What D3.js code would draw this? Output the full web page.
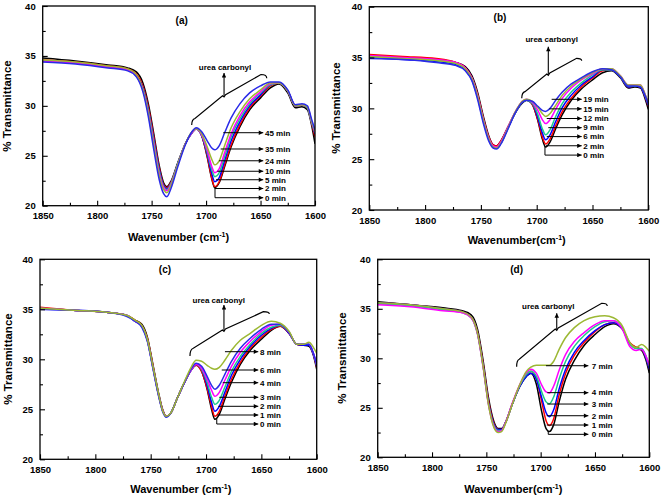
<!DOCTYPE html>
<html><head><meta charset="utf-8">
<script src="https://cdn.jsdelivr.net/npm/d3@7/dist/d3.min.js"></script>
<style>
html,body{margin:0;padding:0;background:#fff;}
svg{display:block;}
text{font-family:"Liberation Sans",Arial,sans-serif;font-weight:bold;fill:#000;}
</style></head><body>
<svg id="chart" width="661" height="499"></svg>
<script>
// ---------- DATA ----------
const wavenumbers = [1850,1820,1790,1772,1764,1758,1753,1748,1743,1739,1736,1732,1726,1719,1713,1709,1704,1699,1695,1692,1688,1683,1677,1669,1660,1650,1641,1633,1625,1618,1612,1607,1603,1600];
const xTicks = [1850,1800,1750,1700,1650,1600];
const xMinorTicks = [1825,1775,1725,1675,1625];
const yTicks = [20,25,30,35,40];
const yMinorTicks = [22.5,27.5,32.5,37.5];

// panel (a)
const timesA = ["0 min","2 min","5 min","10 min","24 min","35 min","45 min"];
const a0  = [34.8,34.5,34.1,33.8,33.4,32.3,30.2,27.2,24.0,22.3,21.9,22.5,24.3,26.2,27.3,27.7,27.0,24.9,22.8,21.8,22.3,23.9,25.9,27.9,29.6,30.8,31.8,32.2,31.3,29.8,29.9,29.6,28.0,26.2];
const a2  = [34.6,34.4,34.0,33.7,33.2,32.0,29.9,26.9,23.8,22.1,21.8,22.4,24.2,26.2,27.3,27.7,27.0,25.0,22.9,21.9,22.4,24.1,26.1,28.1,29.8,31.0,32.0,32.3,31.5,30.0,30.1,29.8,28.2,26.9];
const a5  = [34.5,34.3,33.9,33.6,33.0,31.8,29.6,26.6,23.6,22.0,21.7,22.3,24.2,26.2,27.3,27.7,27.0,25.2,23.3,22.4,22.8,24.5,26.5,28.4,30.0,31.1,32.1,32.3,31.5,30.0,30.1,29.8,28.3,27.2];
const a10 = [34.5,34.3,33.9,33.6,33.0,31.7,29.5,26.4,23.4,21.9,21.6,22.3,24.2,26.2,27.3,27.7,27.1,25.4,23.7,22.9,23.3,24.9,26.9,28.7,30.2,31.3,32.1,32.3,31.5,30.0,30.1,29.8,28.3,27.3];
const a24 = [34.5,34.3,33.9,33.6,33.0,31.6,29.3,26.2,23.2,21.8,21.5,22.2,24.1,26.2,27.3,27.7,27.1,25.6,24.0,23.3,23.7,25.3,27.2,29.0,30.4,31.4,32.2,32.3,31.5,30.0,30.1,29.9,28.4,27.4];
const a35 = [34.6,34.4,34.0,33.7,33.1,31.6,29.2,26.0,23.0,21.6,21.3,22.1,24.1,26.2,27.4,27.7,27.2,25.9,24.7,24.1,24.5,26.0,27.8,29.4,30.7,31.6,32.3,32.3,31.5,30.0,30.1,29.9,28.4,27.5];
const a45 = [34.4,34.2,33.8,33.5,32.9,31.4,28.9,25.6,22.6,21.2,20.9,21.8,23.9,26.1,27.4,27.8,27.4,26.5,25.8,25.6,26.0,27.3,28.8,30.2,31.3,32.0,32.4,32.4,31.6,30.1,30.2,30.0,28.6,27.6];

// panel (b)
const timesB = ["0 min","2 min","6 min","9 min","12 min","15 min","19 min"];
const b0  = [35.2,35.0,34.8,34.5,34.1,33.2,31.6,29.3,27.3,26.4,26.3,26.8,28.1,29.6,30.5,30.8,30.4,28.8,27.0,26.2,26.7,28.0,29.4,30.8,31.9,32.8,33.5,33.7,33.0,32.0,32.1,32.0,31.0,29.9];
const b2  = [35.3,35.1,34.9,34.5,34.0,33.0,31.4,29.1,27.2,26.4,26.3,26.8,28.1,29.6,30.6,30.8,30.4,28.9,27.2,26.5,27.0,28.3,29.7,31.0,32.1,33.0,33.7,33.8,33.1,32.1,32.2,32.1,31.2,30.2];
const b6  = [35.0,34.8,34.6,34.3,33.8,32.8,31.1,28.8,27.0,26.2,26.1,26.6,28.0,29.6,30.6,30.8,30.5,29.1,27.6,26.9,27.4,28.7,30.1,31.3,32.3,33.1,33.8,33.8,33.1,32.1,32.2,32.1,31.2,30.3];
const b9  = [35.1,34.9,34.7,34.4,33.9,32.9,31.2,28.9,27.0,26.2,26.1,26.6,28.0,29.6,30.6,30.8,30.5,29.4,28.0,27.4,27.9,29.2,30.5,31.6,32.5,33.3,33.8,33.8,33.1,32.2,32.2,32.2,31.3,30.4];
const b12 = [35.2,35.0,34.8,34.5,34.0,33.0,31.3,29.0,27.1,26.3,26.2,26.7,28.1,29.7,30.7,30.9,30.6,29.8,28.9,28.5,28.9,29.9,31.0,32.0,32.8,33.4,33.9,33.9,33.2,32.3,32.3,32.3,31.4,30.5];
const b15 = [35.1,34.9,34.7,34.4,33.9,32.9,31.2,28.9,27.0,26.2,26.1,26.6,28.0,29.7,30.7,30.9,30.7,30.1,29.5,29.2,29.5,30.3,31.3,32.2,32.9,33.5,33.9,33.9,33.2,32.3,32.3,32.3,31.4,30.5];
const b19 = [34.9,34.8,34.5,34.2,33.7,32.7,30.9,28.6,26.8,26.1,26.0,26.5,27.9,29.6,30.6,30.8,30.7,30.2,29.8,29.7,30.0,30.8,31.6,32.4,33.0,33.6,33.9,33.8,33.1,32.2,32.2,32.1,31.3,30.4];

// panel (c)
const timesC = ["0 min","1 min","2 min","3 min","4 min","6 min","8 min"];
const c0 = [35.1,34.9,34.7,34.4,33.9,33.5,32.2,29.5,26.7,24.9,24.3,24.6,26.1,27.8,29.0,29.4,28.8,27.0,25.0,24.0,24.5,26.0,27.7,29.5,30.9,32.0,32.9,33.3,32.6,31.5,31.4,31.3,30.4,29.0];
const c1 = [35.2,34.9,34.7,34.4,33.9,33.4,32.1,29.4,26.6,24.9,24.3,24.6,26.1,27.8,29.0,29.4,28.8,27.1,25.3,24.3,24.8,26.3,28.0,29.7,31.1,32.2,33.0,33.3,32.6,31.5,31.4,31.4,30.5,29.2];
const c2 = [35.0,34.9,34.7,34.4,33.8,33.3,31.9,29.2,26.5,24.8,24.3,24.6,26.1,27.8,29.0,29.5,29.0,27.4,25.7,24.8,25.3,26.7,28.4,30.0,31.3,32.4,33.1,33.4,32.6,31.5,31.4,31.4,30.5,29.3];
const c3 = [35.1,34.9,34.7,34.4,33.8,33.3,31.9,29.2,26.5,24.8,24.3,24.6,26.1,27.8,29.0,29.5,29.0,27.7,26.2,25.5,25.9,27.2,28.8,30.3,31.5,32.6,33.2,33.4,32.7,31.5,31.5,31.5,30.6,29.4];
const c4 = [35.1,34.9,34.7,34.4,33.8,33.3,31.9,29.2,26.5,24.8,24.3,24.6,26.1,27.8,29.0,29.5,29.1,28.0,26.9,26.3,26.7,27.9,29.3,30.7,31.8,32.8,33.4,33.5,32.7,31.5,31.5,31.5,30.6,29.5];
const c6 = [35.0,34.9,34.7,34.3,33.8,33.2,31.8,29.1,26.4,24.7,24.2,24.6,26.1,27.8,29.1,29.6,29.3,28.3,27.4,27.0,27.4,28.5,29.8,31.1,32.1,33.0,33.5,33.5,32.7,31.5,31.5,31.5,30.6,29.5];
const c8 = [35.1,34.9,34.7,34.4,33.9,33.4,32.0,29.3,26.6,24.8,24.3,24.6,26.1,27.9,29.3,29.9,29.8,29.4,29.1,29.0,29.2,29.9,30.9,31.9,32.6,33.4,33.8,33.6,32.8,31.5,31.5,31.7,31.2,30.6];

// panel (d)
const timesD = ["0 min","1 min","2 min","3 min","4 min","7 min"];
const pd0 = [35.7,35.4,35.1,34.8,34.4,32.9,29.8,26.0,23.6,22.9,22.9,23.6,25.4,27.2,28.2,28.5,27.4,24.6,22.9,22.6,23.3,25.6,27.9,29.8,31.3,32.4,33.2,33.5,33.0,31.5,31.1,30.8,29.8,28.5];
const pd1 = [35.6,35.4,35.0,34.7,34.2,32.6,29.5,25.7,23.4,22.8,22.8,23.6,25.4,27.3,28.4,28.7,28.0,25.6,23.7,23.2,23.9,26.3,28.5,30.3,31.6,32.7,33.4,33.6,33.0,31.6,31.1,30.9,30.0,28.9];
const pd2 = [35.6,35.4,35.0,34.7,34.2,32.5,29.3,25.5,23.3,22.8,22.8,23.6,25.4,27.2,28.2,28.5,27.9,26.0,24.5,24.1,24.8,26.9,28.9,30.6,31.8,32.8,33.4,33.6,33.0,31.5,31.0,30.9,30.0,28.9];
const pd3 = [35.5,35.3,34.9,34.6,34.1,32.4,29.2,25.4,23.2,22.7,22.7,23.6,25.4,27.3,28.4,28.7,28.2,26.6,25.6,25.4,26.1,27.9,29.7,31.2,32.3,33.2,33.7,33.8,33.1,31.5,31.0,31.0,30.2,29.2];
const pd4 = [35.4,35.2,34.8,34.6,34.1,32.4,29.1,25.3,23.1,22.6,22.7,23.6,25.5,27.4,28.6,28.9,28.5,27.3,26.6,26.5,27.2,28.8,30.4,31.7,32.6,33.4,33.8,33.8,33.0,31.2,30.8,30.9,30.2,29.3];
const pd7 = [35.6,35.4,35.0,34.7,34.2,32.5,29.2,25.3,23.0,22.5,22.6,23.5,25.4,27.4,28.7,29.1,29.3,29.3,29.3,29.3,29.7,30.9,32.1,33.1,33.8,34.2,34.3,34.1,33.3,31.6,31.1,31.4,31.1,30.7];

// colours (style)
const col7 = ["#000000","#ff0000","#0000ff","#1fc98a","#ff00ff","#9cb833","#2a2ae8"];
const colC = ["#000000","#ff0000","#0000ff","#1fc98a","#ff00ff","#2a2ae8","#9cb833"];
const colD = ["#000000","#ff0000","#0000ff","#1fc98a","#ff00ff","#9cb833"];

// ---------- LAYOUT (annotations in data units) ----------
const panels = [
 {box:[42.7,6,315,205.7], tag:"(a)", tagPos:[1722.4,38.2], times:timesA, series:[a0,a2,a5,a10,a24,a35,a45], colors:col7,
  xTitle:"Wavenumber (cm", xTitlePos:[178.5,237.5], yTitlePos:[7.3,106],
  levels:[20.8,21.72,22.6,23.45,24.5,25.68,27.31], starts:[1691.8,1691.8,1690.9,1689.7,1688.1,1686.6,1684.2], zeroFrom:21.8,
  arrowEnd:1647.5, textStart:1645.9,
  brace:[[1713.2,28.08],[1710.2,28.73],[1683.5,31.09],[1649.6,33.14],[1644.3,32.76]], braceTop:33.29, braceText:[1682.6,33.62]},
 {box:[369.3,6.7,648.3,210], tag:"(b)", tagPos:[1732.9,38.64], times:timesB, series:[b0,b2,b6,b9,b12,b15,b19], colors:col7,
  xTitle:"Wavenumber(cm", xTitlePos:[516.7,240.3], yTitlePos:[335.5,108],
  levels:[25.4,26.32,27.22,28.1,29.0,29.95,30.89], starts:[1692.6,1691.7,1691.0,1689.6,1691.0,1688.7,1686.6], zeroFrom:26.3,
  arrowEnd:1659.7, textStart:1658.2,
  brace:[[1713.4,30.99],[1710.5,31.64],[1689.6,33.45],[1664.2,34.92],[1659.7,34.69]], braceTop:36.07, braceText:[1686.6,36.53]},
 {box:[40,259.3,316.7,459.3], tag:"(c)", tagPos:[1737.1,38.63], times:timesC, series:[c0,c1,c2,c3,c4,c6,c8], colors:colC,
  xTitle:"Wavenumber (cm", xTitlePos:[180.8,489.5], yTitlePos:[8.3,359],
  levels:[23.53,24.43,25.3,26.2,27.66,28.93,30.76], starts:[1690.3,1689.8,1688.9,1688.0,1684.9,1685.8,1682.9], zeroFrom:24.1,
  arrowEnd:1652.8, textStart:1651.2,
  brace:[[1714.5,30.33],[1711.5,31.1],[1683.8,33.0],[1648.2,34.76],[1642.8,34.53]], braceTop:35.43, braceText:[1688.5,35.63]},
 {box:[377.7,259.3,649.3,457.3], tag:"(d)", tagPos:[1722.1,38.57], times:timesD, series:[pd0,pd1,pd2,pd3,pd4,pd7], colors:colD,
  xTitle:"Wavenumber(cm", xTitlePos:[513.3,489], yTitlePos:[341.5,358],
  levels:[22.32,23.26,24.2,25.38,26.53,29.25], starts:[1693.0,1694.4,1694.4,1693.9,1693.9,1695.1], zeroFrom:22.6,
  arrowEnd:1656.1, textStart:1653.0,
  brace:[[1722.1,29.15],[1719.7,29.9],[1685.2,33.03],[1643.8,35.56],[1638.7,35.28]], braceTop:34.55, braceText:[1693.0,34.98]}
];

// ---------- DRAW ----------
const svg = d3.select("#chart");
const defs = svg.append("defs");
defs.append("marker").attr("id","ah").attr("viewBox","0 0 10 10")
  .attr("refX",10).attr("refY",5).attr("markerWidth",6).attr("markerHeight",4.5)
  .attr("markerUnits","userSpaceOnUse").attr("orient","auto")
  .append("path").attr("d","M0,0L10,5L0,10z").attr("fill","#000");

panels.forEach((p,pi)=>{
  const [l,t,r,b] = p.box;
  const x = d3.scaleLinear().domain([1850,1600]).range([l,r]);
  const y = d3.scaleLinear().domain([20,40]).range([b,t]);
  const g = svg.append("g");

  defs.append("clipPath").attr("id","clip"+pi).append("rect")
    .attr("x",l).attr("y",t).attr("width",r-l).attr("height",b-t);

  // curves
  const line = d3.line().x(d=>x(d[0])).y(d=>y(d[1])).curve(d3.curveMonotoneX);
  const cg = g.append("g").attr("clip-path","url(#clip"+pi+")");
  p.series.forEach((s,i)=>{
    cg.append("path").datum(wavenumbers.map((w,k)=>[w,s[k]]))
      .attr("d",line).attr("fill","none").attr("stroke",p.colors[i])
      .attr("stroke-width",1.5).attr("stroke-linejoin","round");
  });

  // axes
  const xa = g.append("g").attr("transform",`translate(0,${b})`)
    .call(d3.axisBottom(x).tickValues(xTicks).tickSize(-5).tickSizeOuter(0).tickPadding(7).tickFormat(d3.format("d")));
  const xm = g.append("g").attr("transform",`translate(0,${b})`)
    .call(d3.axisBottom(x).tickValues(xMinorTicks).tickSize(-3).tickSizeOuter(0).tickFormat(""));
  const ya = g.append("g").attr("transform",`translate(${l},0)`)
    .call(d3.axisLeft(y).tickValues(yTicks).tickSize(-5).tickSizeOuter(0).tickPadding(7));
  const ym = g.append("g").attr("transform",`translate(${l},0)`)
    .call(d3.axisLeft(y).tickValues(yMinorTicks).tickSize(-3).tickSizeOuter(0).tickFormat(""));
  [xa,xm,ya,ym].forEach(a=>{
    a.select(".domain").remove();
    a.selectAll("line").attr("stroke","#000").attr("stroke-width",1.1);
    a.selectAll("text").attr("font-size",9.5).attr("font-weight","bold")
      .attr("font-family",'"Liberation Sans",Arial,sans-serif').attr("fill","#000");
  });
  g.append("rect").attr("x",l).attr("y",t).attr("width",r-l).attr("height",b-t)
    .attr("fill","none").attr("stroke","#000").attr("stroke-width",1.3);

  // axis titles
  const xt = g.append("text").attr("x",p.xTitlePos[0]).attr("y",p.xTitlePos[1]).attr("dy","0.35em")
    .attr("text-anchor","middle").attr("font-size",11);
  xt.append("tspan").text(p.xTitle);
  xt.append("tspan").attr("dy","-4").attr("font-size",7).text("-1");
  xt.append("tspan").attr("dy","4").text(")");
  g.append("text").attr("transform",`translate(${p.yTitlePos[0]},${p.yTitlePos[1]}) rotate(-90)`)
    .attr("dy","0.35em").attr("text-anchor","middle").attr("font-size",11.5).text("% Transmittance");

  // panel tag
  g.append("text").attr("x",x(p.tagPos[0])).attr("y",y(p.tagPos[1])).attr("text-anchor","middle")
    .attr("font-size",10).text(p.tag);

  // brace
  const bp = p.brace.map(d=>[x(d[0]),y(d[1])]);
  const bd = `M${bp[0][0]},${bp[0][1]} Q${bp[0][0]},${bp[1][1]+1} ${bp[1][0]},${bp[1][1]} L${bp[2][0]-1.5},${bp[2][1]+0.8} L${bp[2][0]},${bp[2][1]+2} L${bp[2][0]+1.5},${bp[2][1]-0.3} L${bp[3][0]},${bp[3][1]} Q${bp[4][0]},${bp[3][1]} ${bp[4][0]},${bp[4][1]}`;
  g.append("path").attr("d",bd).attr("fill","none").attr("stroke","#000").attr("stroke-width",1.2);
  g.append("line").attr("x1",bp[2][0]).attr("y1",bp[2][1]+1).attr("x2",bp[2][0]).attr("y2",y(p.braceTop))
    .attr("stroke","#000").attr("stroke-width",1.1).attr("marker-end","url(#ah)");
  g.append("text").attr("x",x(p.braceText[0])).attr("y",y(p.braceText[1])).attr("text-anchor","middle")
    .attr("font-size",8).text("urea carbonyl");

  // time labels with arrows
  p.times.forEach((tm,i)=>{
    const ly = y(p.levels[i]);
    let d;
    if(i===0){
      d = `M${x(p.starts[i])},${y(p.zeroFrom)} L${x(p.starts[i])},${ly} L${x(p.arrowEnd)},${ly}`;
    } else {
      d = `M${x(p.starts[i])},${ly} L${x(p.arrowEnd)},${ly}`;
    }
    g.append("path").attr("d",d).attr("fill","none").attr("stroke","#000").attr("stroke-width",1)
      .attr("marker-end","url(#ah)");
    g.append("text").attr("x",x(p.textStart)).attr("y",ly).attr("dy","0.35em")
      .attr("font-size",8).text(tm);
  });
});
</script>
</body></html>
